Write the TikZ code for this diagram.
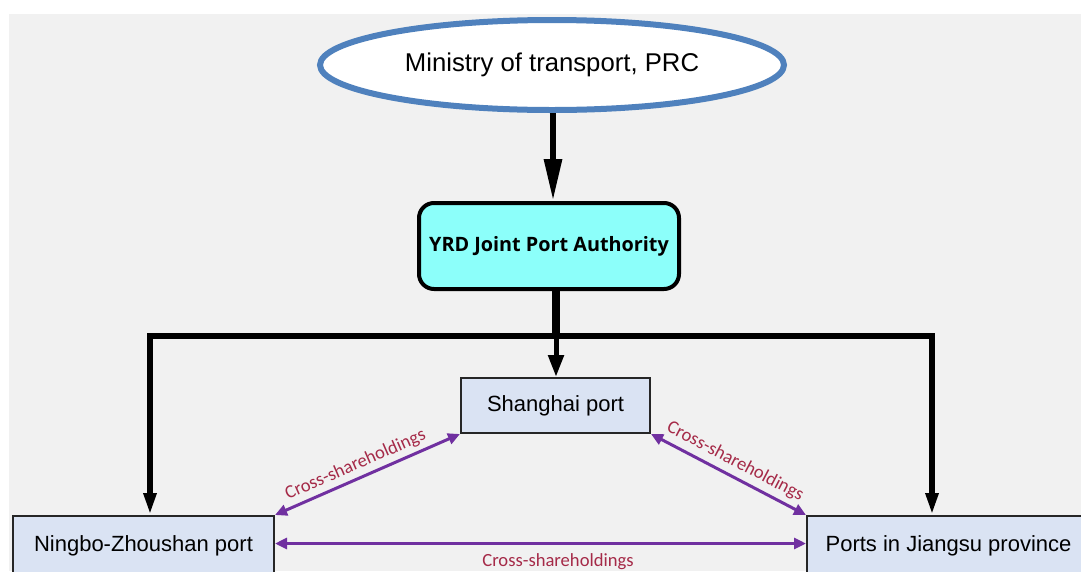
\documentclass[tikz,border=0pt]{standalone}
\usepackage{fontspec}
\setmainfont{Liberation Sans}
\newfontfamily\labfont{Carlito}
\newfontfamily\yrdfont{Open Sans}
\usetikzlibrary{arrows.meta,shapes.geometric}
\definecolor{bggrey}{RGB}{241,241,241}
\definecolor{ellblue}{RGB}{79,129,189}
\definecolor{authcyan}{RGB}{140,255,250}
\definecolor{boxblue}{RGB}{218,227,243}
\definecolor{purp}{RGB}{112,48,160}
\definecolor{labred}{RGB}{165,42,72}
\tikzset{
  portbox/.style={draw=black!85, line width=2pt, fill=boxblue, rectangle, inner sep=0pt,
    font=\fontsize{22}{24}\selectfont},
  blk/.style={draw=black, line width=6pt, line join=miter},
  purparrow/.style={draw=purp, line width=3pt,
    {Triangle[length=12pt,width=11pt]}-{Triangle[length=12pt,width=11pt]}},
  cslabel/.style={text=labred, font=\labfont\fontsize{18.6}{20}\selectfont, inner sep=0pt, sloped}
}
\begin{document}
\begin{tikzpicture}[x=1pt,y=-1pt]
\useasboundingbox (0,0) rectangle (1081,571);
\clip (0,0) rectangle (1081,571);
\fill[white] (0,0) rectangle (1081,571);
\fill[bggrey] (9,14) rectangle (1081,571);

% nodes
\node[ellipse, draw=ellblue, line width=6pt, fill=white, minimum width=464pt, minimum height=90pt,
      inner sep=0pt, font=\fontsize{25.7}{28}\selectfont] (min) at (552,65) {Ministry of transport, PRC};
\node[rectangle, rounded corners=15pt, draw=black, line width=4pt, fill=authcyan,
      minimum width=260pt, minimum height=86pt, inner sep=0pt,
      font=\yrdfont\bfseries\fontsize{19.8}{22}\selectfont] (auth) at (549,246) {YRD Joint Port Authority};
\node[portbox, minimum width=189pt, minimum height=55pt] (sh) at (555.5,405.5) {Shanghai port};
\node[portbox, minimum width=261pt, minimum height=60pt] (nz) at (143.5,546) {Ningbo-Zhoushan port};
\node[portbox, minimum width=283pt, minimum height=60pt] (js) at (948.5,546) {Ports in Jiangsu province};

% black connectors
\draw[blk, -{Triangle[length=42pt,width=17pt]}] ([xshift=1pt]min.south) -- ([xshift=1pt]min.south |- auth.north);
\coordinate (j) at (556,336);
\coordinate (lt) at (150,336);
\coordinate (rt) at (932,336);
\draw[blk, line width=8pt] (auth.south -| j) -- ([yshift=-3pt]j);
\draw[blk, line width=5pt, -{Triangle[length=22pt,width=15pt]}] (j) -- (j |- sh.north);
\draw[blk, {Triangle[length=22pt,width=12pt]}-{Triangle[length=22pt,width=12pt]}]
  (lt |- nz.north) -- (lt) -- (rt) -- (rt |- js.north);

% purple connectors
\draw[purparrow] (nz.north east) -- node[cslabel, pos=0.465, above=4pt] {Cross-shareholdings} (sh.south west);
\draw[purparrow] (sh.south east) -- node[cslabel, pos=0.5, above=5pt] {Cross-shareholdings} (js.north west);
\draw[purparrow] ([yshift=2.5pt]nz.east) -- node[cslabel, pos=0.533, below=9pt] {Cross-shareholdings} ([yshift=2.5pt]js.west);
\end{tikzpicture}
\end{document}
